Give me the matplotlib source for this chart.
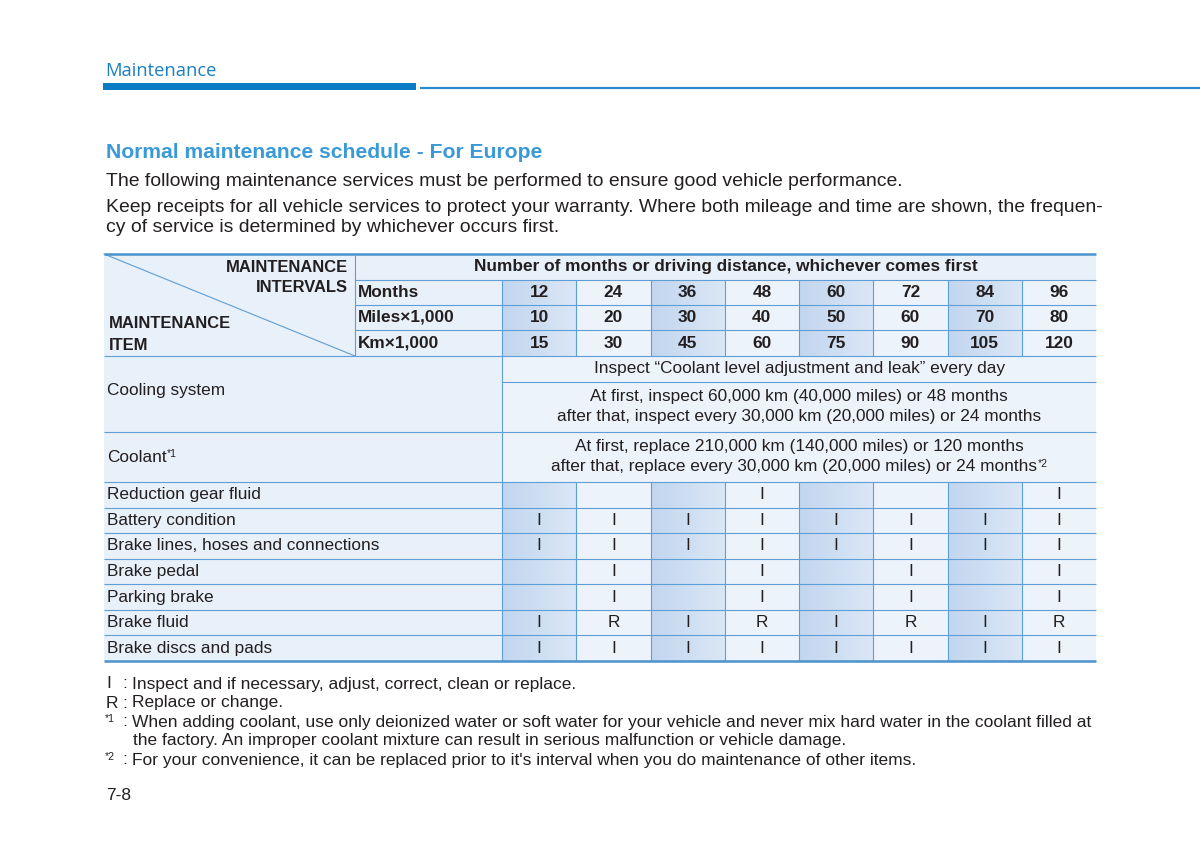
import matplotlib
matplotlib.use("Agg")
import matplotlib.pyplot as plt
import numpy as np
from matplotlib.colors import LinearSegmentedColormap

# ---------------- data ----------------
months = [12, 24, 36, 48, 60, 72, 84, 96]
miles = [10, 20, 30, 40, 50, 60, 70, 80]
km = [15, 30, 45, 60, 75, 90, 105, 120]
interval_labels = ["Months", "Miles×1,000", "Km×1,000"]
header_span = "Number of months or driving distance, whichever comes first"
cooling_lines = ["Inspect \u201cCoolant level adjustment and leak\u201d every day",
                 "At first, inspect 60,000 km (40,000 miles) or 48 months",
                 "after that, inspect every 30,000 km (20,000 miles) or 24 months"]
coolant_lines = ["At first, replace 210,000 km (140,000 miles) or 120 months",
                 "after that, replace every 30,000 km (20,000 miles) or 24 months"]
items = ["Reduction gear fluid", "Battery condition",
         "Brake lines, hoses and connections", "Brake pedal",
         "Parking brake", "Brake fluid", "Brake discs and pads"]
schedule = [
    ["", "", "", "I", "", "", "", "I"],
    ["I", "I", "I", "I", "I", "I", "I", "I"],
    ["I", "I", "I", "I", "I", "I", "I", "I"],
    ["", "I", "", "I", "", "I", "", "I"],
    ["", "I", "", "I", "", "I", "", "I"],
    ["I", "R", "I", "R", "I", "R", "I", "R"],
    ["I", "I", "I", "I", "I", "I", "I", "I"],
]
shaded_cols = [0, 2, 4, 6]
title = "Normal maintenance schedule - For Europe"
intro = ["The following maintenance services must be performed to ensure good vehicle performance.",
         "Keep receipts for all vehicle services to protect your warranty. Where both mileage and time are shown, the frequen-",
         "cy of service is determined by whichever occurs first."]
notes = [("I", "", "Inspect and if necessary, adjust, correct, clean or replace."),
         ("R", "", "Replace or change."),
         ("", "*1", "When adding coolant, use only deionized water or soft water for your vehicle and never mix hard water in the coolant filled at"),
         ("", "", "the factory. An improper coolant mixture can result in serious malfunction or vehicle damage."),
         ("", "*2", "For your convenience, it can be replaced prior to it's interval when you do maintenance of other items.")]
page_no = "7-8"

# ---------------- style ----------------
FONT = "Liberation Sans"
TXT = "#231f20"
BLUE_HEAD = "#1a7fc3"
BLUE_TITLE = "#3a9ad8"
GRID = "#5d9fd6"
BORDER = "#4b93cc"
BG = "#e8f0f9"
BG_LIGHT = "#edf3fb"
grad = LinearSegmentedColormap.from_list("g", ["#c2d6ef", "#dbe7f6"])

fig = plt.figure(figsize=(12, 8.61), dpi=100)
ax = fig.add_axes([0, 0, 1, 1])
ax.set_xlim(0, 1200)
ax.set_ylim(861, 0)
ax.set_axis_off()

# ---------------- page header ----------------
ax.text(105, 71, "Maintenance", fontsize=13.2, color=BLUE_HEAD, family="Open Sans",
        va="center", ha="left")
ax.fill_between([103, 416], 83, 89.5, color="#0a7bc4", lw=0)
ax.plot([420, 1200], [88, 88], color="#2a8ad0", lw=1.6, solid_capstyle="butt")

ax.text(106, 153, title, fontsize=15.2, fontweight="bold", color=BLUE_TITLE,
        family=FONT, va="center")
for y, line in zip([181, 207, 227], intro):
    ax.text(106, y, line, fontsize=13.95, color=TXT, family=FONT, va="center")

# ---------------- table geometry ----------------
X0, XH, XV, XR = 104, 355, 502, 1096
col_edges = np.linspace(XV, XR, len(months) + 1)
hdr_y = [254, 280, 305, 330, 356]
body_y = [356, 382, 432, 482]
item_y = np.linspace(482, 661, len(items) + 1)
FS = 12.4
FSB = 12.4
FSN = 12.5


def rect(x0, x1, y0, y1, color):
    ax.fill_between([x0, x1], y0, y1, color=color, lw=0, zorder=0)


def gradrect(x0, x1, y0, y1):
    ax.imshow(np.linspace(0, 1, 64)[None, :], cmap=grad, aspect="auto",
              extent=(x0, x1, y1, y0), zorder=0.5, interpolation="bilinear")


def hline(y, x0, x1, lw=0.8, c=GRID):
    ax.plot([x0, x1], [y, y], color=c, lw=lw, zorder=3, solid_capstyle="butt")


def vline(x, y0, y1, lw=0.8, c=GRID):
    ax.plot([x, x], [y0, y1], color=c, lw=lw, zorder=3, solid_capstyle="butt")


# backgrounds
rect(X0, XR, hdr_y[0], hdr_y[-1], BG)
rect(XV, XR, hdr_y[1], hdr_y[-1], BG_LIGHT)
rect(X0, XV, body_y[0], item_y[-1], BG)
rect(XV, XR, body_y[0], item_y[-1], BG_LIGHT)
for c in shaded_cols:
    gradrect(col_edges[c], col_edges[c + 1], hdr_y[1], hdr_y[-1])
    gradrect(col_edges[c], col_edges[c + 1], item_y[0], item_y[-1])

# header text
ax.text(348, 267, "MAINTENANCE", fontsize=11.9, fontweight="bold", color=TXT,
        family=FONT, ha="right", va="center")
ax.text(348, 287, "INTERVALS", fontsize=11.9, fontweight="bold", color=TXT,
        family=FONT, ha="right", va="center")
ax.text(109, 324, "MAINTENANCE", fontsize=11.9, fontweight="bold", color=TXT,
        family=FONT, ha="left", va="center")
ax.text(109, 345, "ITEM", fontsize=11.9, fontweight="bold", color=TXT,
        family=FONT, ha="left", va="center")
ax.plot([X0, XH], [hdr_y[0], hdr_y[-1]], color=GRID, lw=0.8, zorder=3)

ax.text((XH + XR) / 2, (hdr_y[0] + hdr_y[1]) / 2, header_span, fontsize=FSB,
        fontweight="bold", color=TXT, family=FONT, ha="center", va="center")
for r, (lab, vals) in enumerate(zip(interval_labels, [months, miles, km])):
    yc = (hdr_y[r + 1] + hdr_y[r + 2]) / 2
    ax.text(358, yc, lab, fontsize=FSB, fontweight="bold", color=TXT,
            family=FONT, ha="left", va="center")
    for c, v in enumerate(vals):
        ax.text((col_edges[c] + col_edges[c + 1]) / 2, yc, str(v), fontsize=FSB,
                fontweight="bold", color=TXT, family=FONT, ha="center", va="center")

# body: cooling system / coolant
xc = (XV + XR) / 2
ax.text(107, (body_y[0] + body_y[2]) / 2 - 3, "Cooling system", fontsize=FS,
        color=TXT, family=FONT, va="center")
ax.text(xc, (body_y[0] + body_y[1]) / 2, cooling_lines[0], fontsize=FS, color=TXT,
        family=FONT, ha="center", va="center")
ax.text(xc, body_y[1] + 14, cooling_lines[1], fontsize=FS, color=TXT,
        family=FONT, ha="center", va="center")
ax.text(xc, body_y[1] + 35, cooling_lines[2], fontsize=FS, color=TXT,
        family=FONT, ha="center", va="center")
coolant_t = ax.text(107, (body_y[2] + body_y[3]) / 2, "Coolant", fontsize=FS,
                    color=TXT, family=FONT, va="center")
ax.text(xc, body_y[2] + 14, coolant_lines[0], fontsize=FS, color=TXT,
        family=FONT, ha="center", va="center")
cl2 = ax.text(xc - 5, body_y[2] + 35, coolant_lines[1], fontsize=FS, color=TXT,
              family=FONT, ha="center", va="center")

# items
for r, (name, row) in enumerate(zip(items, schedule)):
    yc = (item_y[r] + item_y[r + 1]) / 2
    ax.text(107, yc, name, fontsize=FS, color=TXT, family=FONT, va="center")
    for c, mark in enumerate(row):
        if mark:
            ax.text((col_edges[c] + col_edges[c + 1]) / 2, yc, mark, fontsize=FS,
                    color=TXT, family=FONT, ha="center", va="center")

# grid lines
hline(hdr_y[0], X0, XR, lw=1.8, c=BORDER)
for y in hdr_y[1:4]:
    hline(y, XH, XR)
hline(hdr_y[4], X0, XR)
vline(XH, hdr_y[0], hdr_y[-1])
for x in col_edges[:-1]:
    vline(x, hdr_y[1], hdr_y[-1])
hline(body_y[1], XV, XR)
hline(body_y[2], X0, XR)
vline(XV, body_y[0], item_y[-1])
for y in item_y[:-1]:
    hline(y, X0, XR)
for x in col_edges[1:-1]:
    vline(x, item_y[0], item_y[-1])
hline(item_y[-1], X0, XR, lw=1.8, c=BORDER)

# footnotes
note_y = [684, 703, 722, 741, 760]
for y, (sym, sup, txt) in zip(note_y, notes):
    if sym:
        ax.text(106, y, sym, fontsize=FSN, color=TXT, family=FONT, va="center")
    if sup:
        ax.text(105, y - 3, sup, fontsize=7.5, color=TXT, family=FONT, va="center")
    if sym or sup:
        ax.text(122.5, y, ":", fontsize=FSN, color=TXT, family=FONT, va="center")
    ax.text(132 if (sym or sup) else 133, y, txt, fontsize=FSN, color=TXT,
            family=FONT, va="center")
ax.text(106, 795, page_no, fontsize=FSN, color=TXT, family=FONT, va="center")

# superscripts placed after measured text
fig.canvas.draw()
ren = fig.canvas.get_renderer()
inv = ax.transData.inverted()
for t, s in [(coolant_t, "*1"), (cl2, "*2")]:
    bb = t.get_window_extent(ren)
    x_end, _ = inv.transform((bb.x1, bb.y1))
    _, y_c = t.get_position()
    ax.text(x_end + 0.5, y_c - 3, s, fontsize=7.5, color=TXT, family=FONT,
            va="center", ha="left")

fig.savefig("out.png", dpi=100, facecolor="white")
